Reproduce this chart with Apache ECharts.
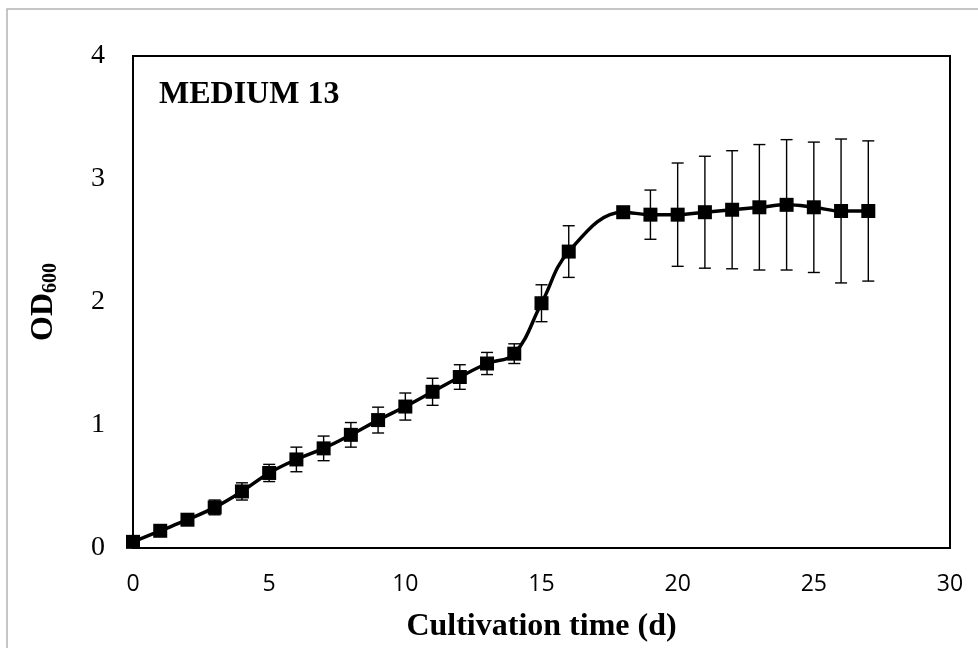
<!DOCTYPE html>
<html>
<head>
<meta charset="utf-8">
<script src="https://cdn.jsdelivr.net/npm/echarts@6/dist/echarts.min.js"></script>
<style>
  html, body { margin: 0; padding: 0; background: #fff; }
  #box { width: 978px; height: 648px; }
</style>
</head>
<body>
<div id="box"></div>
<script>
// cultivation days (no reading on day 17)
var days = [0, 1, 2, 3, 4, 5, 6, 7, 8, 9, 10, 11, 12, 13, 14, 15, 16, 18, 19, 20, 21, 22, 23, 24, 25, 26, 27];
var od600 = [0.05, 0.14, 0.23, 0.33, 0.46, 0.61, 0.72, 0.81, 0.92, 1.04, 1.15, 1.27, 1.39, 1.50, 1.58, 1.99, 2.41, 2.73, 2.71, 2.71, 2.73, 2.75, 2.77, 2.79, 2.77, 2.74, 2.74];
var sd = [0.02, 0.03, 0.03, 0.06, 0.07, 0.07, 0.10, 0.10, 0.10, 0.105, 0.11, 0.11, 0.10, 0.09, 0.08, 0.15, 0.21, 0.03, 0.20, 0.42, 0.455, 0.48, 0.51, 0.53, 0.53, 0.585, 0.57];
var xTicks = [0, 5, 10, 15, 20, 25, 30];
var yTicks = [0, 1, 2, 3, 4];

var serif = '"Liberation Serif", "Times New Roman", serif';

var lineData = days.map(function (d, i) { return [d, od600[i]]; });
var errData = days.map(function (d, i) { return [d, od600[i] - sd[i], od600[i] + sd[i]]; });

var myChart = echarts.init(document.getElementById('box'));
var option = {
    backgroundColor: '#fff',
    animation: false,
    title: {
        text: 'MEDIUM 13',
        left: 154,
        top: 74,
        textStyle: { fontFamily: serif, fontSize: 32, fontWeight: 'bold', color: '#000' }
    },
    graphic: [{
        type: 'rect',
        shape: { x: 7, y: 9, width: 1000, height: 700 },
        style: { fill: 'none', stroke: '#b4b4b4', lineWidth: 1.5 },
        silent: true
    }],
    grid: {
        left: 133, top: 56, right: 28, bottom: 95,
        show: true, borderColor: '#000', borderWidth: 2
    },
    xAxis: {
        type: 'value',
        min: xTicks[0], max: xTicks[xTicks.length - 1], interval: 5,
        name: 'Cultivation time (d)',
        nameLocation: 'middle',
        nameGap: 63,
        nameTextStyle: { fontFamily: serif, fontSize: 32, fontWeight: 'bold', color: '#000' },
        axisLine: { show: true, lineStyle: { color: '#000', width: 2 } },
        axisTick: { show: false },
        splitLine: { show: false },
        axisLabel: { margin: 25, fontFamily: '"Open Sans", sans-serif', fontSize: 23, color: '#000' }
    },
    yAxis: {
        type: 'value',
        min: yTicks[0], max: yTicks[yTicks.length - 1], interval: 1,
        name: '{a|OD}{b|600}',
        nameLocation: 'middle',
        nameGap: 72,
        nameRotate: 90,
        nameTextStyle: {
            rich: {
                a: { fontFamily: serif, fontSize: 32, fontWeight: 'bold', color: '#000' },
                b: { fontFamily: serif, fontSize: 20, fontWeight: 'bold', color: '#000', padding: [14, 0, 0, 0] }
            }
        },
        axisLine: { show: true, lineStyle: { color: '#000', width: 2 } },
        axisTick: { show: false },
        splitLine: { show: false },
        axisLabel: { margin: 28, fontFamily: serif, fontSize: 28, color: '#000' }
    },
    series: [
        {
            type: 'custom',
            z: 1,
            data: errData,
            renderItem: function (params, api) {
                var x = api.value(0);
                var lo = api.coord([x, api.value(1)]);
                var hi = api.coord([x, api.value(2)]);
                var w = 6;
                var st = { stroke: '#000', lineWidth: 1.4 };
                return {
                    type: 'group',
                    children: [
                        { type: 'line', shape: { x1: lo[0], y1: lo[1], x2: hi[0], y2: hi[1] }, style: st },
                        { type: 'line', shape: { x1: lo[0] - w, y1: lo[1], x2: lo[0] + w, y2: lo[1] }, style: st },
                        { type: 'line', shape: { x1: hi[0] - w, y1: hi[1], x2: hi[0] + w, y2: hi[1] }, style: st }
                    ]
                };
            }
        },
        {
            type: 'line',
            z: 3,
            data: lineData,
            smooth: 0.4,
            symbol: 'rect',
            symbolSize: 14,
            lineStyle: { color: '#000', width: 3.5 },
            itemStyle: { color: '#000' }
        }
    ]
};
myChart.setOption(option);
</script>
</body>
</html>
